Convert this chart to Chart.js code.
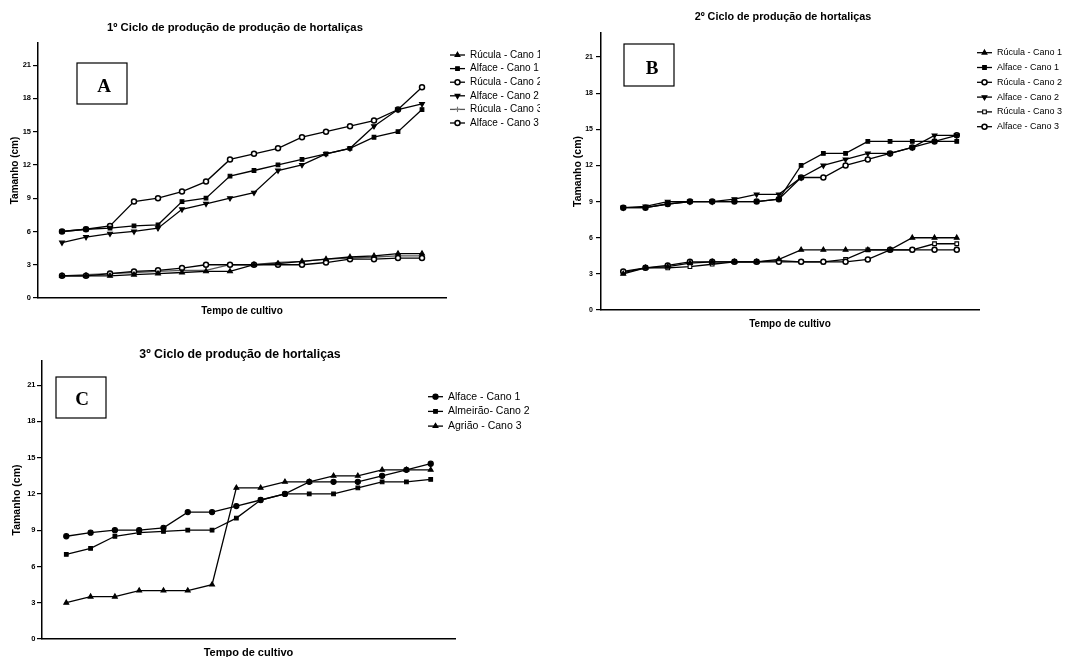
<!DOCTYPE html>
<html>
<head>
<meta charset="utf-8">
<script src="https://cdn.jsdelivr.net/npm/chart.js@4"></script>
<style>
html, body { margin: 0; padding: 0; background: #fff; overflow: hidden; width: 1081px; height: 657px; }
.painel { position: absolute; }
</style>
</head>
<body>
<div class="painel" style="left:0;top:0;width:540px;height:330px"><canvas id="grafA"></canvas></div>
<div class="painel" style="left:540px;top:0;width:541px;height:340px"><canvas id="grafB"></canvas></div>
<div class="painel" style="left:0;top:330px;width:540px;height:340px"><canvas id="grafC"></canvas></div>
<script>
const fonte = "'Liberation Sans', Arial, sans-serif";

// eixo x: 16 medições ao longo do tempo de cultivo
const dias = [1, 2, 3, 4, 5, 6, 7, 8, 9, 10, 11, 12, 13, 14, 15, 16];
const ticksY = [0, 3, 6, 9, 12, 15, 18, 21];

// 1º ciclo
const rucula1A = [2, 2, 2, 2.1, 2.2, 2.3, 2.4, 2.4, 3, 3.1, 3.3, 3.5, 3.7, 3.8, 4, 4];
const alface1A = [6, 6.2, 6.3, 6.5, 6.6, 8.7, 9, 11, 11.5, 12, 12.5, 13, 13.5, 14.5, 15, 17];
const rucula2A = [2, 2, 2.2, 2.4, 2.5, 2.7, 3, 3, 3, 3, 3, 3.2, 3.5, 3.5, 3.6, 3.6];
const alface2A = [5, 5.5, 5.8, 6, 6.3, 8, 8.5, 9, 9.5, 11.5, 12, 13, 13.5, 15.5, 17, 17.5];
const rucula3A = [2, 2.1, 2.2, 2.3, 2.4, 2.5, 2.5, 3, 3, 3.2, 3.3, 3.5, 3.6, 3.7, 3.8, 3.8];
const alface3A = [6, 6.2, 6.5, 8.7, 9, 9.6, 10.5, 12.5, 13, 13.5, 14.5, 15, 15.5, 16, 17, 19];

// 2º ciclo
const rucula1B = [3, 3.5, 3.6, 3.9, 4, 4, 4, 4.2, 5, 5, 5, 5, 5, 6, 6, 6];
const alface1B = [8.5, 8.5, 8.8, 9, 9, 9, 9, 9.2, 12, 13, 13, 14, 14, 14, 14, 14];
const rucula2B = [3.2, 3.5, 3.7, 4, 4, 4, 4, 4, 4, 4, 4, 4.2, 5, 5, 5, 5];
const alface2B = [8.5, 8.6, 9, 9, 9, 9.2, 9.6, 9.6, 11, 12, 12.5, 13, 13, 13.5, 14.5, 14.5];
const rucula3B = [3.1, 3.5, 3.5, 3.6, 3.8, 4, 4, 4.1, 4, 4, 4.2, 5, 5, 5, 5.5, 5.5];
const alface3B = [8.5, 8.5, 8.8, 9, 9, 9, 9, 9.2, 11, 11, 12, 12.5, 13, 13.5, 14, 14.5];

// 3º ciclo
const alface1C = [8.5, 8.8, 9, 9, 9.2, 10.5, 10.5, 11, 11.5, 12, 13, 13, 13, 13.5, 14, 14.5];
const almeirao2C = [7, 7.5, 8.5, 8.8, 8.9, 9, 9, 10, 11.5, 12, 12, 12, 12.5, 13, 13, 13.2];
const agriao3C = [3, 3.5, 3.5, 4, 4, 4, 4.5, 12.5, 12.5, 13, 13, 13.5, 13.5, 14, 14, 14];

// estilos dos marcadores
const tri = { pointStyle: 'triangle', pointRadius: 2.8, pointBackgroundColor: '#000' };
const triBaixo = { pointStyle: 'triangle', pointRotation: 180, pointRadius: 2.8, pointBackgroundColor: '#000' };
const quad = { pointStyle: 'rect', pointRadius: 2.6, pointBackgroundColor: '#000' };
const quadAberto = { pointStyle: 'rect', pointRadius: 2.6, pointBackgroundColor: '#fff' };
const circAberto = { pointStyle: 'circle', pointRadius: 2.5, pointBackgroundColor: '#fff', pointBorderWidth: 1.5 };
const circCheio = { pointStyle: 'circle', pointRadius: 2.6, pointBackgroundColor: '#000' };
const cruz = { pointStyle: 'cross', pointRadius: 2.6, pointBackgroundColor: '#777', pointBorderColor: '#777', borderColor: '#555' };

function serie(label, valores, estilo) {
    return Object.assign({
        label: label,
        data: valores.map((v, i) => ({ x: dias[i], y: v })),
        borderColor: '#000',
        borderWidth: 1.3,
        pointBorderColor: '#000',
        pointBorderWidth: 1.1,
        tension: 0
    }, estilo);
}

// título, caixa com a letra e legenda desenhados no próprio canvas
const decoracao = {
    id: 'decoracao',
    afterDraw(chart, args, o) {
        const ctx = chart.ctx;
        ctx.save();
        ctx.fillStyle = '#000';
        ctx.textAlign = 'center';
        ctx.textBaseline = 'middle';
        ctx.font = 'bold ' + o.tituloFonte + 'px ' + fonte;
        ctx.fillText(o.titulo, o.tituloX, o.tituloY);

        ctx.strokeStyle = '#000';
        ctx.lineWidth = 1.2;
        ctx.strokeRect(o.caixa[0], o.caixa[1], o.caixa[2], o.caixa[3]);
        ctx.font = 'bold 19px "Liberation Serif", "Times New Roman", serif';
        ctx.fillText(o.letra, o.letraX, o.letraY);

        const lg = o.legenda;
        chart.data.datasets.forEach((ds, i) => {
            const y = lg.y + i * lg.gap;
            ctx.strokeStyle = ds.borderColor;
            ctx.lineWidth = 1.3;
            ctx.beginPath();
            ctx.moveTo(lg.x, y);
            ctx.lineTo(lg.x + 15, y);
            ctx.stroke();
            ctx.fillStyle = ds.pointBackgroundColor;
            ctx.strokeStyle = ds.pointBorderColor;
            ctx.lineWidth = ds.pointBorderWidth;
            Chart.helpers.drawPoint(ctx, {
                pointStyle: ds.pointStyle,
                radius: ds.pointRadius,
                rotation: ds.pointRotation || 0,
                borderWidth: ds.pointBorderWidth
            }, lg.x + 7.5, y);
            ctx.fillStyle = '#000';
            ctx.textAlign = 'left';
            ctx.font = lg.fonte + 'px ' + fonte;
            ctx.fillText(ds.label, lg.x + 20, y);
        });
        ctx.restore();
    }
};

function criar(id, datasets, p) {
    new Chart(document.getElementById(id).getContext('2d'), {
        type: 'line',
        data: { datasets: datasets },
        plugins: [decoracao],
        options: {
            responsive: true,
            maintainAspectRatio: false,
            animation: false,
            events: [],
            layout: { padding: p.padding },
            plugins: {
                legend: { display: false },
                tooltip: { enabled: false },
                decoracao: p.deco
            },
            scales: {
                x: {
                    type: 'linear',
                    min: 0,
                    max: 17,
                    ticks: { display: false },
                    grid: { display: false },
                    border: { display: true, color: '#000', width: 1.5 },
                    title: {
                        display: true, text: 'Tempo de cultivo', color: '#000',
                        font: { family: fonte, size: p.xFonte, weight: 'bold' },
                        padding: { top: 0, bottom: p.xPad }
                    },
                    afterFit: s => { s.height = p.xAltura; }
                },
                y: {
                    min: 0,
                    max: 23,
                    afterBuildTicks: s => { s.ticks = ticksY.map(v => ({ value: v })); },
                    afterFit: s => { s.width = 38; },
                    ticks: {
                        color: '#000', padding: p.tickPad,
                        font: { family: fonte, size: p.tickFonte, weight: 'bold' }
                    },
                    grid: { display: true, drawOnChartArea: false, drawTicks: true, tickLength: 5, color: '#000', lineWidth: 1.2 },
                    border: { display: true, color: '#000', width: 1.5 },
                    title: {
                        display: true, text: 'Tamanho (cm)', color: '#000',
                        font: { family: fonte, size: p.yFonte, weight: 'bold' },
                        padding: { top: p.yPad, bottom: 0 }
                    }
                }
            }
        }
    });
}

criar('grafA', [
    serie('Rúcula - Cano 1', rucula1A, tri),
    serie('Alface - Cano 1', alface1A, quad),
    serie('Rúcula - Cano 2', rucula2A, circAberto),
    serie('Alface - Cano 2', alface2A, triBaixo),
    serie('Rúcula - Cano 3', rucula3A, cruz),
    serie('Alface - Cano 3', alface3A, circAberto)
], {
    padding: { left: 0, top: 43, right: 94, bottom: 0 },
    xAltura: 32, xFonte: 10, xPad: 13, yFonte: 10, yPad: 9, tickFonte: 7.5, tickPad: 2,
    deco: {
        titulo: '1º Ciclo de produção de produção de hortaliças', tituloX: 235, tituloY: 28, tituloFonte: 11.3,
        caixa: [77, 63, 50, 41], letra: 'A', letraX: 104, letraY: 87,
        legenda: { x: 450, y: 55, gap: 13.6, fonte: 10 }
    }
});

criar('grafB', [
    serie('Rúcula - Cano 1', rucula1B, tri),
    serie('Alface - Cano 1', alface1B, quad),
    serie('Rúcula - Cano 2', rucula2B, circAberto),
    serie('Alface - Cano 2', alface2B, triBaixo),
    serie('Rúcula - Cano 3', rucula3B, quadAberto),
    serie('Alface - Cano 3', alface3B, circAberto)
], {
    padding: { left: 23, top: 33, right: 102, bottom: 0 },
    xAltura: 30, xFonte: 10, xPad: 10, yFonte: 10.5, yPad: 9, tickFonte: 7, tickPad: 3,
    deco: {
        titulo: '2º Ciclo de produção de hortaliças', tituloX: 243, tituloY: 17, tituloFonte: 10.8,
        caixa: [84, 44, 50, 42], letra: 'B', letraX: 112, letraY: 69,
        legenda: { x: 437, y: 52.7, gap: 14.8, fonte: 9 }
    }
});

criar('grafC', [
    serie('Alface - Cano 1', alface1C, circCheio),
    serie('Almeirão- Cano 2', almeirao2C, quad),
    serie('Agrião - Cano 3', agriao3C, tri)
], {
    padding: { left: 4, top: 31, right: 85, bottom: 0 },
    xAltura: 31, xFonte: 11, xPad: 10.5, yFonte: 10.5, yPad: 7, tickFonte: 7.5, tickPad: 1.5,
    deco: {
        titulo: '3º Ciclo de produção de hortaliças', tituloX: 240, tituloY: 25, tituloFonte: 12.3,
        caixa: [56, 47, 50, 41], letra: 'C', letraX: 82, letraY: 70,
        legenda: { x: 428, y: 66.7, gap: 14.7, fonte: 10.5 }
    }
});
</script>
</body>
</html>
